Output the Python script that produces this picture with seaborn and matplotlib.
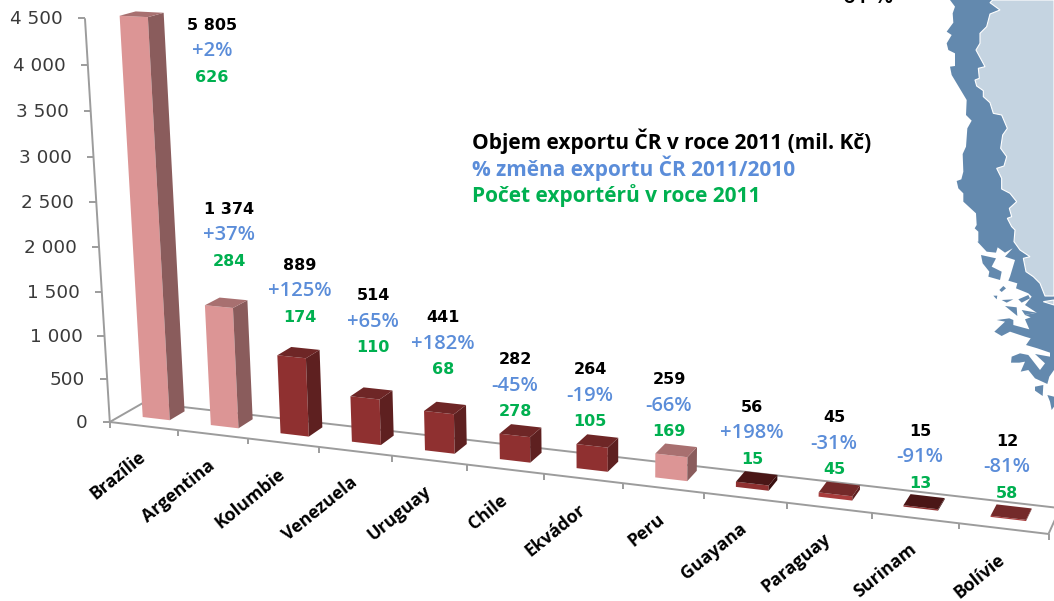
import matplotlib
matplotlib.use("Agg")
import matplotlib.pyplot as plt
import numpy as np
import seaborn as sns
from matplotlib.patches import Polygon
from matplotlib.transforms import Affine2D, Transform

# =============================================================================
# DATA
# =============================================================================
countries = ["Brazílie", "Argentina", "Kolumbie", "Venezuela", "Uruguay", "Chile",
             "Ekvádor", "Peru", "Guayana", "Paraguay", "Surinam", "Bolívie"]
exports = [5805, 1374, 889, 514, 441, 282, 264, 259, 56, 45, 15, 12]
changes = ["+2%", "+37%", "+125%", "+65%", "+182%", "-45%", "-19%", "-66%",
           "+198%", "-31%", "-91%", "-81%"]
exporters = [626, 284, 174, 110, 68, 278, 105, 169, 15, 45, 13, 58]
y_ticks = [0, 500, 1000, 1500, 2000, 2500, 3000, 3500, 4000, 4500]

# layout: centre x and y of the top label of each stack, in picture pixels
label_x = [212, 229, 300, 373, 443, 515, 590, 669, 752, 834, 920, 1007]
label_y = [25, 209, 265, 296, 318, 360, 370, 380, 407, 418, 431, 441]

PINK = ("#DC9595", "#8A5C5C", "#A87070")
DARK = ("#8F3030", "#5E2020", "#6E2626")
bar_colors = [PINK, PINK, DARK, DARK, DARK, DARK, DARK, PINK,
              ("#8F3030", "#3A1010", "#4A1616"), ("#A83C3C", "#5E2020", "#742A2A"),
              ("#8F3030", "#3A1010", "#4A1616"), ("#A83C3C", "#5E2020", "#742A2A")]

Y_MAX = 4500
W0, W1 = 0.37, 0.82  # depth of the bars inside the floor

# =============================================================================
# PERSPECTIVE (camera fitted to points)
# =============================================================================
calib = [
    (0, 0, 0, 110, 421), (12, 0, 0, 1048, 534), (0, 0, 1, 142, 405), (12, 0, 1, 1060, 505),
    (0, 4500, 0, 84, 18), (0, 4000, 0, 88, 64), (0, 3000, 0, 94, 157), (0, 2000, 0, 100, 247),
    (0, 1000, 0, 105, 335), (0, 500, 0, 108, 378),
    (1, 0, 0, 177, 430), (2, 0, 0, 247, 438), (3, 0, 0, 319, 446), (4, 0, 0, 392, 457),
    (5, 0, 0, 467, 465), (6, 0, 0, 544, 475), (7, 0, 0, 623, 484), (8, 0, 0, 703, 493),
    (9, 0, 0, 787, 503), (10, 0, 0, 871, 513), (11, 0, 0, 958, 524),
    (0.3, 0, W0, 143, 417), (0.7, 0, W0, 170, 419), (0.7, 0, W1, 185, 410),
    (0.3, 4500, W0, 119, 16), (0.7, 4500, W0, 148, 17), (0.7, 4500, W1, 164, 14),
    (1.3, 0, W0, 211, 425), (1.3, 1374, W0, 205, 306),
    (2.3, 0, W0, 281, 433), (2.3, 889, W0, 277, 356),
    (3.3, 0, W0, 352, 442), (3.3, 514, W0, 351, 397),
    (7.3, 0, W0, 656, 478), (7.3, 259, W0, 655, 454),
    (11.3, 0, W0, 991, 517), (11.7, 0, W0, 1027, 521), (11.7, 0, W1, 1032, 509),
]


def fit_camera(points):
    rows = []
    for u, v, w, px, py in points:
        X = [u, v / 1000, w, 1]
        rows.append(X + [0, 0, 0, 0] + [-px / 1000 * c for c in X])
        rows.append([0, 0, 0, 0] + X + [-py / 1000 * c for c in X])
    return np.linalg.svd(np.array(rows))[2][-1].reshape(3, 4)


CAMERA = fit_camera(calib)


def project(u, v, w=0.0):
    u, v = np.asarray(u, float), np.asarray(v, float)
    X = np.stack([u, v / 1000, np.full_like(u, w), np.ones_like(u)], axis=-1)
    h = X @ CAMERA.T
    return h[..., :2] / h[..., 2:] * 1000


class BarFace(Transform):
    """category/value -> display, on the front plane of the bars"""
    input_dims = 2
    output_dims = 2
    is_separable = False
    has_inverse = False

    def transform_non_affine(self, values):
        values = np.asarray(values, float)
        return px_trans.transform(project(values[:, 0] + 0.5, values[:, 1], W0))


# =============================================================================
# FIGURE
# =============================================================================
sns.set_theme(style="white")
plt.rcParams["font.family"] = ["Open Sans", "DejaVu Sans"]

fig = plt.figure(figsize=(10.54, 6.01), dpi=100)
ax = fig.add_axes([0, 0, 1, 1])
px_trans = Affine2D().scale(1, -1).translate(0, 601)

palette = {c: col[0] for c, col in zip(countries, bar_colors)}
sns.barplot(x=countries, y=exports, hue=countries, palette=palette, width=0.4,
            saturation=1, legend=False, ax=ax)
ax.set_xlim(-1, 12)
ax.set_ylim(0, 6000)
ax.set_axis_off()
bars = list(ax.patches)

# map in the corner (zoom coords: 3x, origin 800,0)
north = [(450, 0), (465, 20), (458, 40), (460, 68), (440, 95), (455, 105), (440, 130), (445, 150),
         (465, 160), (465, 198), (450, 200), (455, 225), (485, 275), (500, 300), (498, 345),
         (515, 362), (502, 385), (498, 440), (488, 462), (490, 515), (484, 538), (470, 543),
         (475, 565), (490, 580), (490, 605), (528, 640), (530, 675), (524, 685), (535, 695),
         (535, 725)]
south = [(52, 35), (80, 65), (108, 68), (113, 52), (135, 68), (158, 55), (135, 80), (165, 90),
         (150, 140), (145, 152), (172, 160), (168, 175), (205, 190), (215, 200), (195, 225),
         (230, 248), (195, 255), (212, 262), (195, 268), (208, 298), (160, 285), (160, 270),
         (148, 265), (110, 270), (135, 275), (103, 305), (125, 318), (150, 305), (195, 320),
         (212, 325), (198, 345), (232, 355), (270, 368), (270, 380), (225, 372), (255, 400),
         (240, 420), (205, 375), (180, 370), (155, 380), (153, 398), (178, 398), (195, 395),
         (182, 425), (205, 420), (225, 445), (262, 462), (268, 440), (282, 420), (282, -690)]
islands = [
    [(63, 75), (108, 85), (95, 110), (125, 125), (120, 150), (85, 140), (88, 125), (68, 100)],
    [(118, 180), (130, 168), (138, 175), (125, 186)],
    [(100, 197), (112, 197), (110, 208)],
    [(125, 210), (160, 208), (140, 218)],
    [(175, 208), (205, 195), (210, 205), (185, 218)],
    [(135, 228), (170, 232), (172, 258)],
    [(185, 240), (230, 248), (195, 255)],
    [(225, 470), (250, 465), (248, 498), (225, 482)],
    [(262, 495), (282, 500), (282, 530), (275, 540), (270, 515)],
]
light = [(578, 0), (570, 8), (600, 30), (570, 42), (560, 80), (540, 100), (540, 130), (528, 150),
         (555, 200), (535, 205), (538, 235), (525, 240), (530, 258), (550, 272), (550, 290),
         (570, 308), (580, 340), (605, 345), (622, 385), (608, 405), (602, 445), (620, 470),
         (612, 498), (590, 505), (605, 535), (605, 567), (630, 580), (650, 605), (628, 625),
         (635, 650), (622, 655), (635, 680), (645, 690), (642, 725), (660, 750), (690, 770),
         (670, 775), (678, 815), (700, 830), (720, 850), (735, 888), (762, 888), (762, 0)]
sliver = [(730, 905), (762, 900), (762, 915)]


def z5(pts):
    return [(800 + x / 3, y / 3) for x, y in pts]


def z6(pts):
    return [(960 + x / 3, 230 + y / 3) for x, y in pts]


MAP_DARK, MAP_LIGHT = "#6389AE", "#C5D4E1"
for pts in [z5(north) + z6(south)] + [z6(i) for i in islands]:
    ax.add_patch(Polygon(pts, closed=True, fc=MAP_DARK, ec="none", transform=px_trans, zorder=1))
for pts in [z5(light), z5(sliver)]:
    ax.add_patch(Polygon(pts, closed=True, fc=MAP_LIGHT, ec="white", lw=0.8, transform=px_trans, zorder=1))

# axis frame
LINE = "#9C9C9C"


def seg(p, q):
    ax.plot([p[0], q[0]], [p[1], q[1]], color=LINE, lw=1.4, transform=px_trans, zorder=2,
            solid_capstyle="butt", clip_on=False)


seg(project(0, 0), project(0, Y_MAX))
seg(project(0, 0), project(12, 0))
seg(project(0, 0, 1), project(12, 0, 1))
seg(project(0, 0), project(0, 0, 1))
seg(project(12, 0), project(12, 0, 1))
for t in y_ticks:
    p = project(0, t)
    seg(p, p + [-7, 0])
    ax.text(p[0] - 22, p[1] + 1, f"{t:,}".replace(",", " "), ha="right", va="center",
            family="DejaVu Sans", fontsize=13.2, color="#3A3A3A", transform=px_trans)
for i in range(13):
    p = project(i, 0)
    seg(p, p + [0, 6])

# bars: seaborn gives the front faces, side and top follow from them
for patch, cols in zip(bars, bar_colors):
    x0, wid = patch.get_x(), patch.get_width()
    h = min(patch.get_height(), Y_MAX)
    patch.set_height(h)
    patch.set_transform(BarFace())
    patch.set_zorder(3)
    patch.set_linewidth(0)
    u0, u1 = x0 + 0.5, x0 + wid + 0.5
    side = [project(u1, 0, W0), project(u1, 0, W1), project(u1, h, W1), project(u1, h, W0)]
    top = [project(u0, h, W0), project(u1, h, W0), project(u1, h, W1), project(u0, h, W1)]
    ax.add_patch(Polygon(side, closed=True, fc=cols[1], ec="none", transform=px_trans, zorder=3))
    ax.add_patch(Polygon(top, closed=True, fc=cols[2], ec="none", transform=px_trans, zorder=3))

# category names and the three line labels
BLUE, GREEN = "#5B8DD9", "#00B050"
NUM_FONT = ["DejaVu Sans"]
for i, name in enumerate(countries):
    p = project(i + 0.5, 0)
    ax.text(p[0] - 6, p[1] + 22, name, rotation=39, rotation_mode="anchor", ha="right", va="top",
            fontsize=12.8, fontweight="bold", color="black", transform=px_trans)
    x, y = label_x[i], label_y[i]
    ax.text(x, y, f"{exports[i]:,}".replace(",", " "), ha="center", va="center", fontsize=11.5,
            family=NUM_FONT, fontweight="bold", color="black", transform=px_trans, zorder=5)
    ax.text(x, y + 26, changes[i], ha="center", va="center", fontsize=14.5,
            fontweight="semibold", color=BLUE, transform=px_trans, zorder=5)
    ax.text(x, y + 52, str(exporters[i]), ha="center", va="center", fontsize=11.5,
            family=NUM_FONT, fontweight="bold", color=GREEN, transform=px_trans, zorder=5)

# key
for y, txt, col in [(141, "Objem exportu ČR v roce 2011 (mil. Kč)", "black"),
                    (168, "% změna exportu ČR 2011/2010", BLUE),
                    (196, "Počet exportérů v roce 2011", GREEN)]:
    ax.text(472, y, txt, ha="left", va="center", fontsize=15, fontweight="bold", color=col,
            transform=px_trans, zorder=5)

# leftover of a label cut by the top edge
ax.text(868, 3, "61 %", ha="center", va="baseline", fontsize=16, fontweight="semibold",
        color="black", transform=px_trans)

plt.savefig("out.png", dpi=100)
